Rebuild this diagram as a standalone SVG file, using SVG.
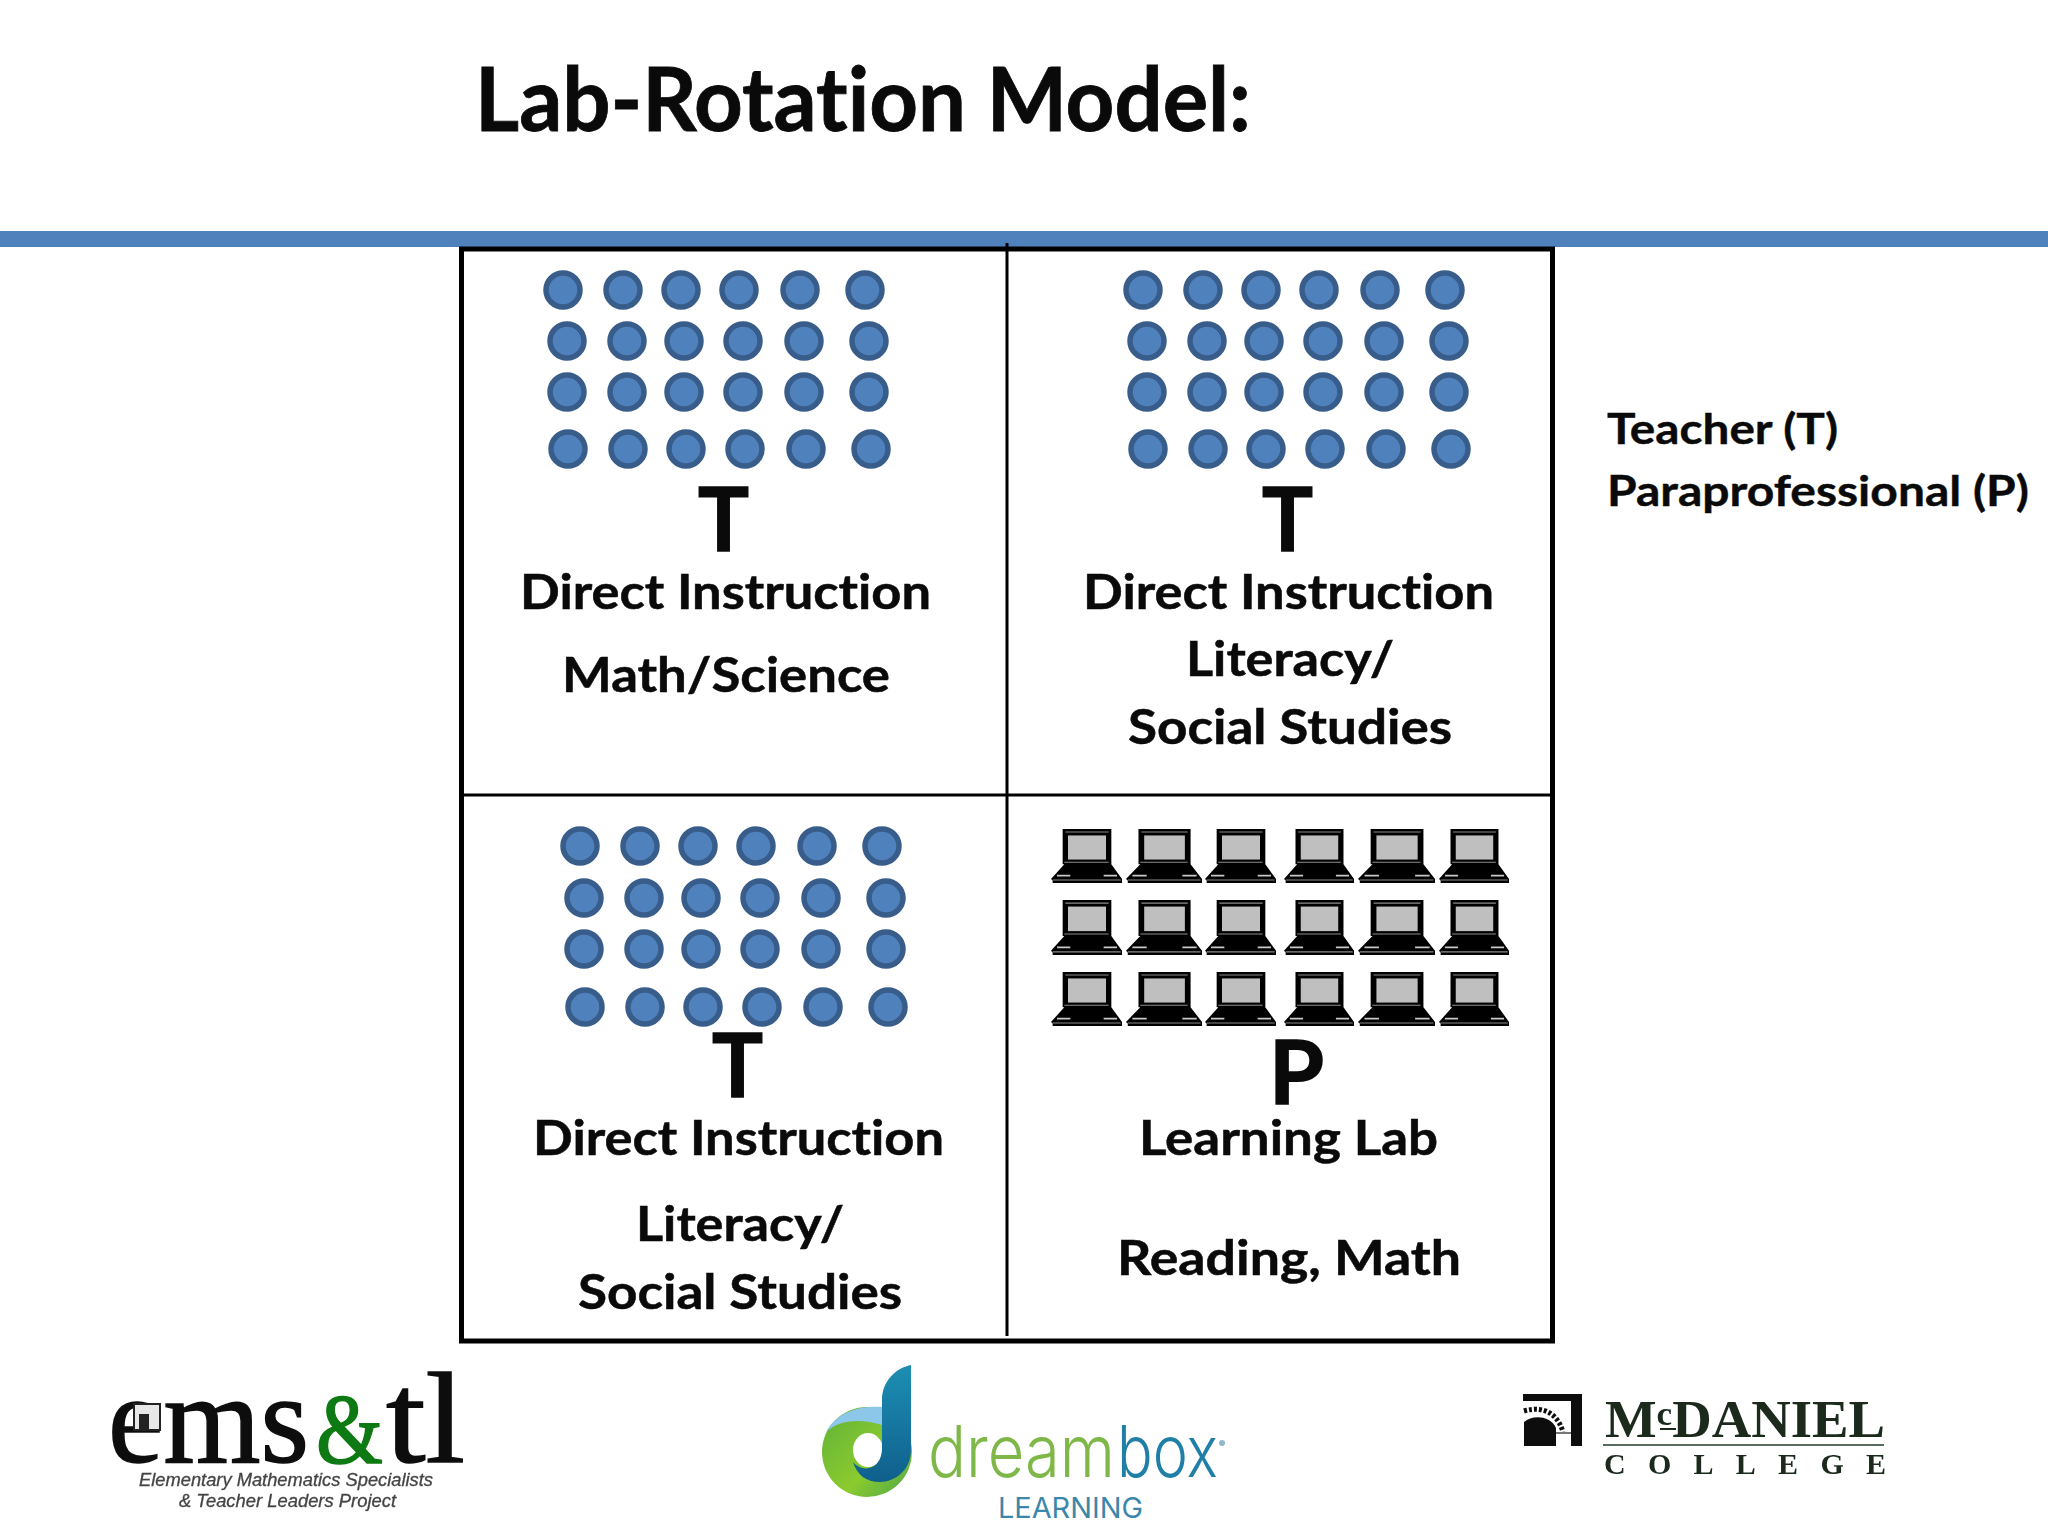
<svg xmlns="http://www.w3.org/2000/svg" width="2048" height="1536" viewBox="0 0 2048 1536">
<style>
text{font-family:"Lato","Liberation Sans",sans-serif;font-weight:700;fill:#0a0a0a;font-variant-ligatures:none}
.lab{font-size:47px;stroke:#0a0a0a;stroke-width:.5}
.big{font-size:88px;stroke:#0a0a0a;stroke-width:1.5}
.ttl{font-size:88px;stroke:#0a0a0a;stroke-width:.8}
.leg{font-size:42px;stroke:#0a0a0a;stroke-width:.4}
.dots circle{fill:#4f81bd;stroke:#385d8a;stroke-width:5.5}
.serif{font-family:"Liberation Serif",serif}
.sub{font-family:"Liberation Sans",sans-serif;font-style:italic;font-weight:400;font-size:18px;fill:#444;stroke:#444;stroke-width:.3}
.db{font-family:"Inter","Liberation Sans",sans-serif;font-weight:300}
</style>
<defs>
<symbol id="laptop" viewBox="32 58 213 159" preserveAspectRatio="none">
<path d="M67 58H213V162L245 205V217H37V210L32 205L72 162H67Z" fill="#000"/>
<rect x="83" y="77" width="114" height="71" fill="#c0bfc0"/>
<path d="M75 67H205M72 156H205M37 208H241" stroke="#8c8c8c" stroke-width="3" fill="none"/>
<path d="M50 195H90M190 195H230" stroke="#c8c8c8" stroke-width="5" fill="none"/>
</symbol>
<linearGradient id="dbBlue" x1="0" y1="0" x2="0" y2="1"><stop offset="0" stop-color="#1d8fb3"/><stop offset="1" stop-color="#0f5f8c"/></linearGradient>
<linearGradient id="dbGreen" x1="0" y1="0" x2="1" y2="1"><stop offset="0" stop-color="#5fb13a"/><stop offset="0.6" stop-color="#8ccb2e"/><stop offset="1" stop-color="#4aa54a"/></linearGradient>
<filter id="soft" x="-5%" y="-5%" width="110%" height="110%"><feGaussianBlur stdDeviation="0.7"/></filter>
</defs>
<rect width="2048" height="1536" fill="#fff"/>
<g id="title"><text class="ttl" x="475" y="131" textLength="776" lengthAdjust="spacingAndGlyphs">Lab-Rotation Model:</text></g>
<rect id="band" x="0" y="231" width="2048" height="16" fill="#4f81bd"/>
<g id="grid" fill="none" stroke="#000">
<rect x="461.500" y="249" width="1091" height="1092" stroke-width="5"/>
<path d="M1007 243V1336M461 795H1553" stroke-width="3"/>
</g>
<g id="cell-top-left">
<g class="dots">
<circle cx="563" cy="290" r="17"/><circle cx="623" cy="290" r="17"/><circle cx="681" cy="290" r="17"/><circle cx="739" cy="290" r="17"/><circle cx="800" cy="290" r="17"/><circle cx="865" cy="290" r="17"/>
<circle cx="567" cy="341" r="17"/><circle cx="627" cy="341" r="17"/><circle cx="684" cy="341" r="17"/><circle cx="743" cy="341" r="17"/><circle cx="804" cy="341" r="17"/><circle cx="869" cy="341" r="17"/>
<circle cx="567" cy="392" r="17"/><circle cx="627" cy="392" r="17"/><circle cx="684" cy="392" r="17"/><circle cx="743" cy="392" r="17"/><circle cx="804" cy="392" r="17"/><circle cx="869" cy="392" r="17"/>
<circle cx="568" cy="449" r="17"/><circle cx="628" cy="449" r="17"/><circle cx="686" cy="449" r="17"/><circle cx="745" cy="449" r="17"/><circle cx="806" cy="449" r="17"/><circle cx="871" cy="449" r="17"/>
</g>
<text class="big" x="698" y="551" textLength="51" lengthAdjust="spacingAndGlyphs">T</text>
<text class="lab" x="520" y="609" textLength="411" lengthAdjust="spacingAndGlyphs">Direct Instruction</text>
<text class="lab" x="562" y="692" textLength="328" lengthAdjust="spacingAndGlyphs">Math/Science</text>
</g>
<g id="cell-top-right">
<g class="dots">
<circle cx="1143" cy="290" r="17"/><circle cx="1203" cy="290" r="17"/><circle cx="1261" cy="290" r="17"/><circle cx="1319" cy="290" r="17"/><circle cx="1380" cy="290" r="17"/><circle cx="1445" cy="290" r="17"/>
<circle cx="1147" cy="341" r="17"/><circle cx="1207" cy="341" r="17"/><circle cx="1264" cy="341" r="17"/><circle cx="1323" cy="341" r="17"/><circle cx="1384" cy="341" r="17"/><circle cx="1449" cy="341" r="17"/>
<circle cx="1147" cy="392" r="17"/><circle cx="1207" cy="392" r="17"/><circle cx="1264" cy="392" r="17"/><circle cx="1323" cy="392" r="17"/><circle cx="1384" cy="392" r="17"/><circle cx="1449" cy="392" r="17"/>
<circle cx="1148" cy="449" r="17"/><circle cx="1208" cy="449" r="17"/><circle cx="1266" cy="449" r="17"/><circle cx="1325" cy="449" r="17"/><circle cx="1386" cy="449" r="17"/><circle cx="1451" cy="449" r="17"/>
</g>
<text class="big" x="1262" y="551" textLength="51" lengthAdjust="spacingAndGlyphs">T</text>
<text class="lab" x="1083" y="609" textLength="411" lengthAdjust="spacingAndGlyphs">Direct Instruction</text>
<text class="lab" x="1186" y="676" textLength="208" lengthAdjust="spacingAndGlyphs">Literacy/</text>
<text class="lab" x="1128" y="744" textLength="324" lengthAdjust="spacingAndGlyphs">Social Studies</text>
</g>
<g id="cell-bottom-left">
<g class="dots">
<circle cx="580" cy="846" r="17"/><circle cx="640" cy="846" r="17"/><circle cx="698" cy="846" r="17"/><circle cx="756" cy="846" r="17"/><circle cx="817" cy="846" r="17"/><circle cx="882" cy="846" r="17"/>
<circle cx="584" cy="898" r="17"/><circle cx="644" cy="898" r="17"/><circle cx="701" cy="898" r="17"/><circle cx="760" cy="898" r="17"/><circle cx="821" cy="898" r="17"/><circle cx="886" cy="898" r="17"/>
<circle cx="584" cy="949" r="17"/><circle cx="644" cy="949" r="17"/><circle cx="701" cy="949" r="17"/><circle cx="760" cy="949" r="17"/><circle cx="821" cy="949" r="17"/><circle cx="886" cy="949" r="17"/>
<circle cx="585" cy="1007" r="17"/><circle cx="645" cy="1007" r="17"/><circle cx="703" cy="1007" r="17"/><circle cx="762" cy="1007" r="17"/><circle cx="823" cy="1007" r="17"/><circle cx="888" cy="1007" r="17"/>
</g>
<text class="big" x="712" y="1097" textLength="51" lengthAdjust="spacingAndGlyphs">T</text>
<text class="lab" x="533" y="1155" textLength="411" lengthAdjust="spacingAndGlyphs">Direct Instruction</text>
<text class="lab" x="636" y="1241" textLength="208" lengthAdjust="spacingAndGlyphs">Literacy/</text>
<text class="lab" x="578" y="1309" textLength="324" lengthAdjust="spacingAndGlyphs">Social Studies</text>
</g>
<g id="cell-bottom-right">
<g id="laptops">
<use href="#laptop" x="1051" y="829" width="71" height="54"/><use href="#laptop" x="1126" y="829" width="76" height="54"/><use href="#laptop" x="1205" y="829" width="71" height="54"/><use href="#laptop" x="1284" y="829" width="70" height="54"/><use href="#laptop" x="1358" y="829" width="77" height="54"/><use href="#laptop" x="1439" y="829" width="70" height="54"/>
<use href="#laptop" x="1051" y="900" width="71" height="55"/><use href="#laptop" x="1126" y="900" width="76" height="55"/><use href="#laptop" x="1205" y="900" width="71" height="55"/><use href="#laptop" x="1284" y="900" width="70" height="55"/><use href="#laptop" x="1358" y="900" width="77" height="55"/><use href="#laptop" x="1439" y="900" width="70" height="55"/>
<use href="#laptop" x="1051" y="972" width="71" height="54"/><use href="#laptop" x="1126" y="972" width="76" height="54"/><use href="#laptop" x="1205" y="972" width="71" height="54"/><use href="#laptop" x="1284" y="972" width="70" height="54"/><use href="#laptop" x="1358" y="972" width="77" height="54"/><use href="#laptop" x="1439" y="972" width="70" height="54"/>
</g>
<text class="big" x="1269" y="1104" textLength="55" lengthAdjust="spacingAndGlyphs">P</text>
<text class="lab" x="1139" y="1155" textLength="299" lengthAdjust="spacingAndGlyphs">Learning Lab</text>
<text class="lab" x="1117" y="1275" textLength="344" lengthAdjust="spacingAndGlyphs">Reading, Math</text>
</g>
<g id="legend">
<text class="leg" x="1607" y="444" textLength="231" lengthAdjust="spacingAndGlyphs">Teacher (T)</text>
<text class="leg" x="1607" y="506" textLength="422" lengthAdjust="spacingAndGlyphs">Paraprofessional (P)</text>
</g>
<g id="logo-emstl" filter="url(#soft)">
<text class="serif" x="108" y="1462" font-size="128" textLength="201" lengthAdjust="spacingAndGlyphs" style="font-weight:400;stroke:#0a0a0a;stroke-width:1.5">ems</text>
<text class="serif" x="316" y="1462" font-size="100" textLength="67" lengthAdjust="spacingAndGlyphs" style="font-weight:400;fill:#0f7a12;stroke:#0f7a12;stroke-width:1.5">&amp;</text>
<text class="serif" x="386" y="1462" font-size="130" textLength="79" lengthAdjust="spacingAndGlyphs" style="font-weight:400;stroke:#0a0a0a;stroke-width:1.5">tl</text>
<rect x="134" y="1404" width="26" height="26" fill="#e6e6e6" stroke="#222" stroke-width="2"/>
<rect x="139" y="1414" width="10" height="15" fill="#222"/>
<text class="sub" x="139" y="1486" textLength="294" lengthAdjust="spacingAndGlyphs">Elementary Mathematics Specialists</text>
<text class="sub" x="179" y="1507" textLength="217" lengthAdjust="spacingAndGlyphs">&amp; Teacher Leaders Project</text>
</g>
<g id="logo-dreambox">
<circle cx="867" cy="1452" r="45" fill="url(#dbGreen)"/>
<path d="M826 1432C835 1415 855 1405 882 1407V1425C860 1418 838 1420 826 1432Z" fill="#8cc6e8"/>
<ellipse cx="868" cy="1450" rx="15" ry="17" fill="#fff"/>
<path d="M911 1365V1450C911 1470 895 1482 880 1482C866 1482 857 1475 853 1462C858 1468 866 1470 872 1467C879 1464 882 1456 882 1448V1400C882 1382 895 1368 911 1365Z" fill="url(#dbBlue)"/>
<text class="db" x="928" y="1477" font-size="72" textLength="187" lengthAdjust="spacingAndGlyphs" style="fill:#7fb848">dream</text>
<text class="db" x="1117" y="1477" font-size="72" textLength="101" lengthAdjust="spacingAndGlyphs" style="fill:#1f7fa6">box</text>
<circle cx="1222" cy="1443" r="3" fill="#8fb7c8"/>
<text class="db" x="998" y="1518" font-size="28" textLength="145" lengthAdjust="spacingAndGlyphs" style="fill:#3b87ab;font-weight:400">LEARNING</text>
</g>
<g id="logo-mcdaniel" filter="url(#soft)">
<path d="M1523 1394H1582V1446H1571V1401H1523Z" fill="#0c0c0c"/>
<path d="M1524 1422C1532 1415 1550 1415 1556 1428V1446H1524Z" fill="#0c0c0c"/>
<path d="M1524 1411C1545 1405 1558 1415 1563 1432" fill="none" stroke="#111" stroke-width="5" stroke-dasharray="3 2"/>
<path d="M1556 1433H1571" stroke="#777" stroke-width="2"/>
<text class="serif" x="1605" y="1437" style="font-weight:700;fill:#1a2a1e" font-size="53" textLength="280" lengthAdjust="spacingAndGlyphs">M<tspan font-size="34" dy="-12">c</tspan><tspan font-size="53" dy="12">DANIEL</tspan></text>
<rect x="1660" y="1428" width="16" height="2" fill="#1a2a1e"/>
<rect x="1603" y="1444" width="281" height="2" fill="#5a6a5e"/>
<text class="serif" x="1604" y="1474" font-size="30" style="font-weight:700;fill:#1a2a1e" textLength="282" lengthAdjust="spacing">COLLEGE</text>
</g>
</svg>
